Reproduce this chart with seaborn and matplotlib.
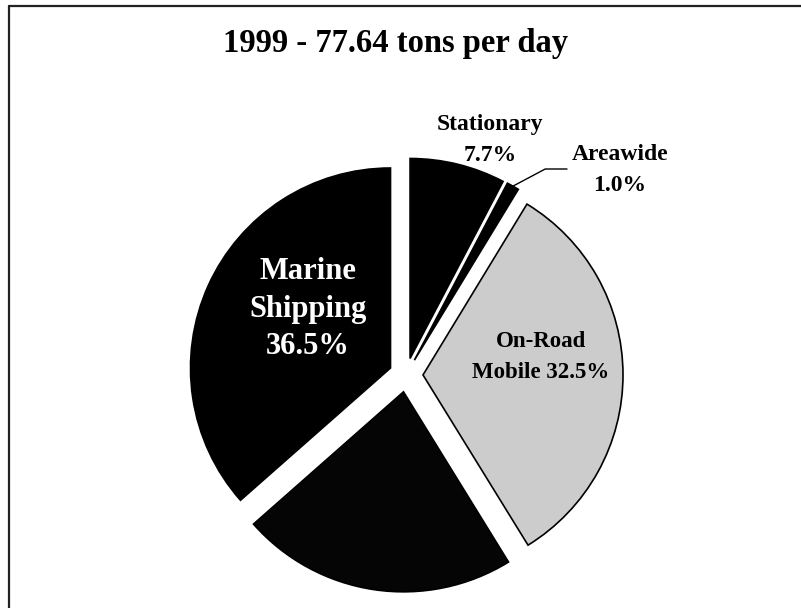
import math
import matplotlib
matplotlib.use("Agg")
import matplotlib.pyplot as plt
from matplotlib.lines import Line2D
import seaborn as sns

# Emission shares by source category, 1999 (percent of 77.64 tons/day)
categories = ["Stationary", "Areawide", "On-Road Mobile", "Other Mobile", "Marine Shipping"]
shares = [7.7, 1.0, 32.5, 22.3, 36.5]
slice_colors = ["#000000", "#000000", "#cccccc", "#050505", "#000000"]
title_text = "1999 - 77.64 tons per day"

sns.set_theme(style="white")
plt.rcParams["font.family"] = ["Liberation Serif", "DejaVu Serif"]

W, H = 801, 608
fig = plt.figure(figsize=(W / 100, H / 100), dpi=100)
ax = fig.add_axes([0, 0, 1, 1])

# pixel helpers (y measured from the top of the canvas)
def P(x, y):
    return (x, H - y)

cx, cy = P(406, 375)
radius = 200
gap = 17

wedges, _ = ax.pie(
    shares,
    colors=slice_colors,
    startangle=90,
    counterclock=False,
    explode=[gap] * len(shares),
    radius=radius,
    center=(cx, cy),
    wedgeprops=dict(edgecolor="black", linewidth=1.2),
    frame=True,
)
ax.set_xlim(0, W)
ax.set_ylim(0, H)
ax.set_aspect("equal")
ax.axis("off")

# Title
ax.text(*P(396, 52), title_text, ha="center", va="baseline",
        fontsize=23.5, fontweight="bold", color="black")

# Slice labels
ax.text(*P(308, 309), f"Marine\nShipping\n{shares[4]}%", ha="center", va="center",
        fontsize=22, fontweight="bold", color="white", linespacing=1.37,
        multialignment="center")
ax.text(*P(541, 357), f"On-Road\nMobile {shares[2]}%", ha="center", va="center",
        fontsize=16.5, fontweight="bold", color="black", linespacing=1.6,
        multialignment="center")
ax.text(*P(490, 140), f"Stationary\n{shares[0]}%", ha="center", va="center",
        fontsize=17, fontweight="bold", color="black", linespacing=1.6,
        multialignment="center")
ax.text(*P(620, 170), f"Areawide\n{shares[1]}%", ha="center", va="center",
        fontsize=17, fontweight="bold", color="black", linespacing=1.6,
        multialignment="center")

# Leader line for the thin Areawide slice, from its outer arc midpoint
w = wedges[1]
mid = math.radians(0.5 * (w.theta1 + w.theta2))
wx = w.center[0] + w.r * math.cos(mid)
wy = w.center[1] + w.r * math.sin(mid)
ax.annotate("", xy=(wx, wy), xytext=P(567, 169),
            arrowprops=dict(arrowstyle="-", color="black", lw=1.0,
                            shrinkA=0, shrinkB=0,
                            connectionstyle="angle,angleA=0,angleB=28,rad=0"))

# Frame: top and left rules
fig.add_artist(Line2D([9 / W, 1.0], [1 - 6 / H, 1 - 6 / H], transform=fig.transFigure,
                      color="#222222", lw=1.6))
fig.add_artist(Line2D([9 / W, 9 / W], [0, 1 - 6 / H], transform=fig.transFigure,
                      color="#222222", lw=1.6))

fig.savefig("out.png", dpi=100, facecolor="white")
